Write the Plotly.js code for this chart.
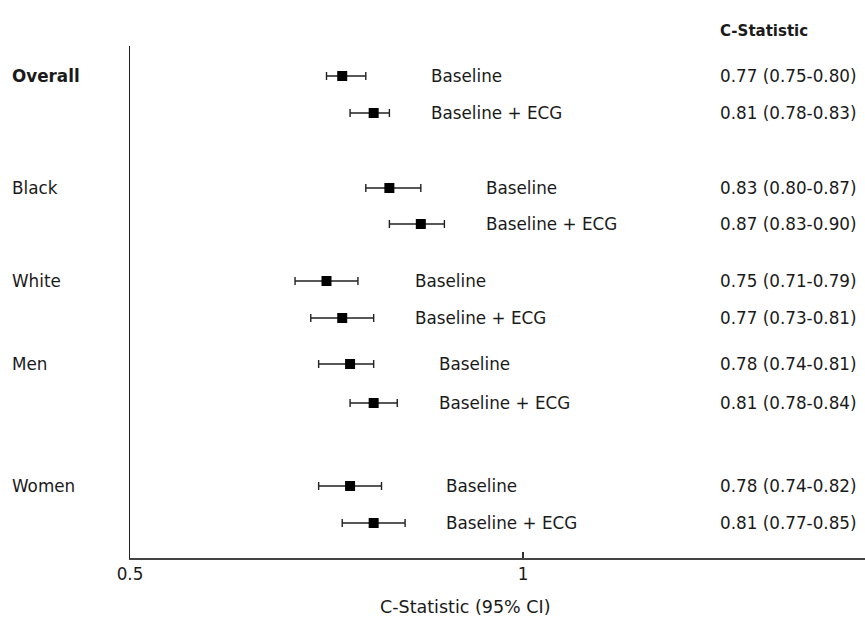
<!DOCTYPE html>
<html>
<head>
<meta charset="utf-8">
<script src="https://cdn.plot.ly/plotly-3.0.1.min.js"></script>
<style>html,body{margin:0;padding:0;background:#fff;}#chart{width:865px;height:620px;}</style>
</head>
<body>
<div id="chart"></div>
<script>
// ---- data ----
const groups = ['Overall', 'Black', 'White', 'Men', 'Women'];
const models = ['Baseline', 'Baseline + ECG'];
const cstat = [0.77, 0.81, 0.83, 0.87, 0.75, 0.77, 0.78, 0.81, 0.78, 0.81];
const lower = [0.75, 0.78, 0.80, 0.83, 0.71, 0.73, 0.74, 0.78, 0.74, 0.77];
const upper = [0.80, 0.83, 0.87, 0.90, 0.79, 0.81, 0.81, 0.84, 0.82, 0.85];
const xTickVals = [0.5, 1];
const xTickText = ['0.5', '1'];
const columnHeader = 'C-Statistic';
const xAxisTitle = 'C-Statistic (95% CI)';

// ---- layout constants (row positions on the vertical axis) ----
const rowY = [76, 113, 188, 224, 281, 318, 364, 403, 486, 523];
const FONT = 'DejaVu Sans, Liberation Sans, Arial, sans-serif';
const TXT = '#1a1a1a';
const FS = 16.8;

const fmt = v => v.toFixed(2);

const trace = {
  type: 'scatter',
  mode: 'markers',
  x: cstat,
  y: rowY,
  marker: {symbol: 'square', size: 10, color: '#000'},
  error_x: {
    type: 'data',
    symmetric: false,
    array: cstat.map((v, i) => upper[i] - v),
    arrayminus: cstat.map((v, i) => v - lower[i]),
    color: '#222',
    thickness: 1.4,
    width: 4
  },
  hoverinfo: 'skip',
  showlegend: false
};

const annotations = [];
groups.forEach((g, gi) => {
  const i0 = gi * 2;
  annotations.push({
    xref: 'paper', yref: 'y', x: -0.1633, y: rowY[i0], xanchor: 'left', yanchor: 'middle',
    text: gi === 0 ? '<b>' + g + '</b>' : g, showarrow: false,
    font: {family: FONT, size: FS, color: TXT}
  });
  const labelX = Math.max(upper[i0], upper[i0 + 1]) + 0.05;
  models.forEach((m, mi) => {
    const i = i0 + mi;
    annotations.push({
      xref: 'x', yref: 'y', x: labelX, y: rowY[i], xanchor: 'left', yanchor: 'middle',
      text: m, showarrow: false, font: {family: FONT, size: FS, color: TXT}
    });
    annotations.push({
      xref: 'paper', yref: 'y', x: 0.8, y: rowY[i], xanchor: 'left', yanchor: 'middle',
      text: fmt(cstat[i]) + ' (' + fmt(lower[i]) + '-' + fmt(upper[i]) + ')', showarrow: false,
      font: {family: FONT, size: FS, color: TXT}
    });
  });
});
annotations.push({
  xref: 'paper', yref: 'paper', x: 0.8, y: 1 + 15 / 512, xanchor: 'left', yanchor: 'middle',
  text: '<b>' + columnHeader + '</b>', showarrow: false,
  font: {family: FONT, size: 15, color: TXT}
});
annotations.push({
  xref: 'paper', yref: 'paper', x: 0.4558, y: -49 / 512, xanchor: 'center', yanchor: 'middle',
  text: xAxisTitle, showarrow: false,
  font: {family: FONT, size: 17.5, color: TXT}
});

const layout = {
  width: 865, height: 620,
  margin: {l: 130, r: 0, t: 46, b: 62, pad: 0},
  paper_bgcolor: '#fff', plot_bgcolor: '#fff',
  showlegend: false,
  xaxis: {
    range: [0.5, 0.5 + 735 / 786],
    tickmode: 'array', tickvals: xTickVals, ticktext: xTickText,
    ticks: 'inside', ticklen: 6, tickwidth: 1.3, tickcolor: '#333',
    showline: true, linecolor: '#444', linewidth: 1.5,
    showgrid: false, zeroline: false,
    tickfont: {family: FONT, size: FS, color: TXT},
    fixedrange: true
  },
  yaxis: {
    range: [558, 46],
    showticklabels: false, ticks: '',
    showline: true, linecolor: '#222', linewidth: 1.5,
    showgrid: false, zeroline: false, fixedrange: true
  },
  annotations: annotations
};

Plotly.newPlot('chart', [trace], layout, {displayModeBar: false, staticPlot: true});
</script>
</body>
</html>
